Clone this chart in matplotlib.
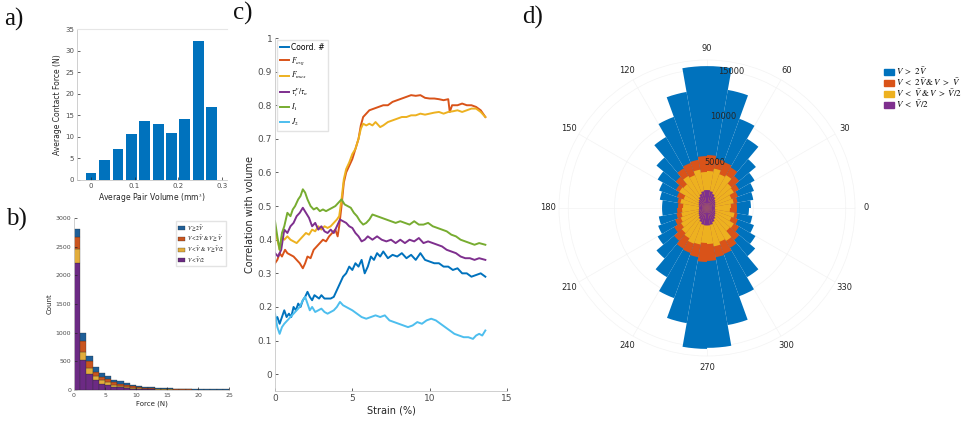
import numpy as np
import matplotlib
matplotlib.use('Agg')
import matplotlib.pyplot as plt
from matplotlib.patches import Patch

# ---- colours (MATLAB default order) ----
c_blue = '#0072BD'
c_orange = '#D95319'
c_yellow = '#EDB120'
c_purple = '#7E2F8E'
c_green = '#77AC30'
c_cyan = '#4DBEEE'
txt = '#262626'
spine = '#c8c8c8'

# ---- a) average contact force vs pair volume ----
vol_centres = [0.0, 0.031, 0.062, 0.092, 0.123, 0.154, 0.185, 0.215, 0.246, 0.277]
avg_force = [1.6, 4.6, 7.2, 10.6, 13.6, 12.9, 11.0, 14.1, 32.2, 16.9]

# ---- b) stacked force histogram, 1 N bins ----
force_edges = list(range(0, 25))
cnt_small = [2220, 520, 280, 170, 110, 90, 60, 45, 35, 25, 18, 14, 10, 8, 6,
             5, 4, 3, 3, 2, 2, 2, 1, 1, 1]
cnt_mid = [240, 140, 110, 80, 60, 45, 35, 30, 22, 18, 14, 10, 8, 6, 5,
           4, 3, 3, 2, 2, 2, 1, 1, 1, 1]
cnt_large = [200, 200, 110, 70, 60, 50, 40, 35, 28, 22, 18, 14, 12, 10, 8,
             7, 6, 5, 4, 4, 3, 3, 3, 2, 2]
cnt_huge = [150, 130, 100, 80, 60, 55, 45, 40, 35, 30, 25, 22, 20, 18, 16,
            14, 12, 11, 10, 9, 8, 7, 6, 6, 5]
hist_labels = [r'$V \geq 2\bar{V}$', r'$V < 2\bar{V}\ &\ V \geq \bar{V}$',
               r'$V < \bar{V}\ &\ V \geq \bar{V}/2$', r'$V < \bar{V}/2$']

# ---- c) correlation with volume vs strain, (strain %, r) ----
coord = [(0, 0.16), (0.15, 0.17), (0.3, 0.15), (0.45, 0.17), (0.6, 0.19), (0.75, 0.17),
         (0.9, 0.18), (1.05, 0.17), (1.2, 0.20), (1.35, 0.19), (1.5, 0.21), (1.65, 0.20),
         (1.8, 0.22), (1.95, 0.23), (2.1, 0.245), (2.25, 0.23), (2.4, 0.22), (2.55, 0.235),
         (2.7, 0.23), (2.85, 0.225), (3.0, 0.235), (3.2, 0.225), (3.4, 0.225), (3.6, 0.225),
         (3.8, 0.23), (4.0, 0.25), (4.2, 0.27), (4.4, 0.29), (4.6, 0.30), (4.8, 0.32),
         (5.0, 0.31), (5.2, 0.33), (5.4, 0.32), (5.6, 0.34), (5.8, 0.30), (6.0, 0.32),
         (6.2, 0.35), (6.4, 0.34), (6.6, 0.36), (6.8, 0.35), (7.0, 0.365), (7.3, 0.345),
         (7.6, 0.355), (7.9, 0.35), (8.2, 0.36), (8.5, 0.345), (8.8, 0.355), (9.1, 0.34),
         (9.4, 0.36), (9.7, 0.34), (10.0, 0.335), (10.3, 0.33), (10.6, 0.33), (10.9, 0.32),
         (11.2, 0.32), (11.5, 0.31), (11.8, 0.315), (12.1, 0.30), (12.4, 0.30), (12.7, 0.29),
         (13.0, 0.295), (13.3, 0.30), (13.6, 0.29)]
f_avg = [(0, 0.33), (0.15, 0.34), (0.3, 0.36), (0.45, 0.35), (0.65, 0.37), (0.8, 0.36),
         (1.0, 0.355), (1.2, 0.35), (1.4, 0.34), (1.6, 0.33), (1.8, 0.315), (1.95, 0.33),
         (2.1, 0.35), (2.3, 0.345), (2.5, 0.37), (2.7, 0.38), (2.9, 0.39), (3.1, 0.40),
         (3.3, 0.395), (3.5, 0.41), (3.7, 0.42), (3.9, 0.43), (4.05, 0.41), (4.15, 0.44),
         (4.3, 0.50), (4.45, 0.57), (4.6, 0.60), (4.8, 0.62), (5.0, 0.64), (5.2, 0.67),
         (5.4, 0.70), (5.55, 0.74), (5.7, 0.765), (5.9, 0.775), (6.1, 0.785), (6.4, 0.79),
         (6.7, 0.795), (7.0, 0.80), (7.3, 0.80), (7.6, 0.81), (7.9, 0.815), (8.2, 0.82),
         (8.5, 0.825), (8.8, 0.83), (9.1, 0.828), (9.4, 0.83), (9.7, 0.822), (10.0, 0.82),
         (10.3, 0.82), (10.6, 0.818), (10.9, 0.815), (11.2, 0.818), (11.3, 0.78),
         (11.45, 0.80), (11.8, 0.80), (12.1, 0.805), (12.4, 0.80), (12.7, 0.80),
         (13.0, 0.795), (13.3, 0.785), (13.6, 0.765)]
f_max = [(0, 0.43), (0.15, 0.40), (0.3, 0.37), (0.45, 0.41), (0.6, 0.40), (0.8, 0.41),
         (1.0, 0.40), (1.2, 0.395), (1.4, 0.39), (1.6, 0.40), (1.8, 0.41), (2.0, 0.42),
         (2.2, 0.415), (2.4, 0.43), (2.6, 0.425), (2.8, 0.44), (3.0, 0.43), (3.2, 0.44),
         (3.4, 0.435), (3.6, 0.44), (3.8, 0.45), (4.0, 0.46), (4.15, 0.47), (4.3, 0.52),
         (4.45, 0.58), (4.6, 0.61), (4.8, 0.63), (5.0, 0.655), (5.2, 0.67), (5.4, 0.70),
         (5.55, 0.73), (5.7, 0.745), (5.9, 0.74), (6.1, 0.745), (6.3, 0.74), (6.5, 0.75),
         (6.8, 0.735), (7.0, 0.74), (7.3, 0.75), (7.6, 0.755), (7.9, 0.76), (8.2, 0.765),
         (8.5, 0.765), (8.8, 0.77), (9.1, 0.77), (9.4, 0.775), (9.7, 0.772), (10.0, 0.775),
         (10.3, 0.778), (10.6, 0.78), (10.9, 0.775), (11.2, 0.78), (11.5, 0.782),
         (11.8, 0.785), (12.1, 0.78), (12.4, 0.785), (12.7, 0.79), (13.0, 0.79),
         (13.3, 0.78), (13.6, 0.765)]
tau = [(0, 0.36), (0.2, 0.35), (0.4, 0.37), (0.6, 0.43), (0.8, 0.42), (1.0, 0.44),
       (1.2, 0.45), (1.4, 0.47), (1.6, 0.48), (1.8, 0.495), (2.0, 0.48), (2.2, 0.465),
       (2.4, 0.44), (2.6, 0.45), (2.8, 0.43), (3.0, 0.44), (3.2, 0.425), (3.4, 0.42),
       (3.6, 0.43), (3.8, 0.42), (4.0, 0.44), (4.2, 0.46), (4.4, 0.455), (4.6, 0.45),
       (4.8, 0.44), (5.0, 0.435), (5.2, 0.42), (5.4, 0.41), (5.6, 0.395), (5.8, 0.40),
       (6.0, 0.41), (6.3, 0.40), (6.6, 0.41), (6.9, 0.40), (7.2, 0.395), (7.5, 0.40),
       (7.8, 0.39), (8.1, 0.40), (8.4, 0.39), (8.7, 0.40), (9.0, 0.395), (9.3, 0.405),
       (9.6, 0.39), (9.9, 0.395), (10.2, 0.39), (10.5, 0.385), (10.8, 0.38), (11.1, 0.37),
       (11.4, 0.365), (11.7, 0.36), (12.0, 0.35), (12.3, 0.345), (12.6, 0.345),
       (12.9, 0.34), (13.2, 0.345), (13.6, 0.34)]
inv_i1 = [(0, 0.455), (0.15, 0.41), (0.3, 0.37), (0.45, 0.42), (0.6, 0.44), (0.8, 0.48),
          (1.0, 0.47), (1.15, 0.49), (1.3, 0.50), (1.5, 0.52), (1.65, 0.53), (1.8, 0.55),
          (1.95, 0.54), (2.1, 0.52), (2.3, 0.50), (2.5, 0.49), (2.7, 0.495), (2.9, 0.485),
          (3.1, 0.49), (3.3, 0.485), (3.5, 0.49), (3.7, 0.495), (3.9, 0.50), (4.1, 0.51),
          (4.3, 0.52), (4.5, 0.505), (4.7, 0.50), (4.9, 0.495), (5.1, 0.48), (5.3, 0.47),
          (5.5, 0.455), (5.7, 0.445), (5.9, 0.45), (6.1, 0.46), (6.3, 0.475), (6.6, 0.47),
          (6.9, 0.465), (7.2, 0.46), (7.5, 0.455), (7.8, 0.45), (8.1, 0.455), (8.4, 0.45),
          (8.7, 0.445), (9.0, 0.455), (9.3, 0.445), (9.6, 0.445), (9.9, 0.45), (10.2, 0.44),
          (10.5, 0.435), (10.8, 0.43), (11.1, 0.425), (11.4, 0.415), (11.7, 0.41),
          (12.0, 0.40), (12.3, 0.395), (12.6, 0.39), (12.9, 0.385), (13.2, 0.39),
          (13.6, 0.385)]
inv_j2 = [(0, 0.18), (0.15, 0.14), (0.3, 0.12), (0.45, 0.14), (0.6, 0.15), (0.8, 0.16),
          (1.0, 0.17), (1.2, 0.18), (1.4, 0.19), (1.6, 0.20), (1.8, 0.22), (1.95, 0.23),
          (2.1, 0.21), (2.25, 0.19), (2.4, 0.20), (2.6, 0.185), (2.8, 0.19), (3.0, 0.195),
          (3.2, 0.185), (3.4, 0.18), (3.6, 0.185), (3.8, 0.19), (4.0, 0.20), (4.2, 0.215),
          (4.4, 0.205), (4.6, 0.20), (4.8, 0.195), (5.0, 0.19), (5.3, 0.18), (5.6, 0.17),
          (5.9, 0.165), (6.2, 0.17), (6.5, 0.175), (6.8, 0.17), (7.1, 0.175), (7.4, 0.16),
          (7.7, 0.155), (8.0, 0.15), (8.3, 0.145), (8.6, 0.14), (8.9, 0.145), (9.2, 0.155),
          (9.5, 0.15), (9.8, 0.16), (10.1, 0.165), (10.4, 0.16), (10.7, 0.15), (11.0, 0.14),
          (11.3, 0.13), (11.6, 0.12), (11.9, 0.115), (12.2, 0.11), (12.5, 0.11),
          (12.8, 0.105), (13.0, 0.115), (13.2, 0.12), (13.4, 0.115), (13.6, 0.13)]
corr_labels = ['Coord. #', r'$F_{avg}$', r'$F_{max}$', r'$\tau_t^{F}/\tau_n$', r'$I_1$', r'$J_2$']

# ---- d) polar histogram of contact orientation, 10 deg bins (cumulative radii) ----
bin_deg = list(range(5, 360, 10))
r_all = [4750, 5080, 5400, 5940, 6900, 8640, 10260, 12960, 15340,
         15340, 12740, 10480, 8860, 7130, 6160, 5510, 5180, 4860,
         4860, 5290, 5620, 6160, 7130, 8640, 10370, 12640, 15230,
         15120, 12850, 10150, 8640, 6800, 6050, 5400, 4970, 4540]
r_below2 = [3240, 3350, 3560, 4000, 4540, 5080, 5290, 5400, 5720,
            5610, 5290, 5180, 4970, 4430, 3890, 3460, 3240, 3130,
            3240, 3350, 3670, 4100, 4650, 5080, 5180, 5400, 5830,
            5720, 5400, 5290, 4970, 4540, 4000, 3560, 3350, 3240]
r_below1 = [2590, 2920, 2810, 3350, 3460, 4100, 3890, 4320, 4000,
            3890, 4210, 3780, 4000, 3350, 3460, 2700, 2920, 2590,
            2700, 2810, 3020, 3240, 3560, 3780, 4100, 4000, 3780,
            3890, 4210, 3890, 4100, 3240, 3350, 2810, 3020, 2480]
r_belowhalf = [860, 920, 970, 1080, 1190, 1400, 1620, 1840, 1940,
               1940, 1840, 1620, 1400, 1190, 1080, 970, 920, 860,
               860, 920, 970, 1080, 1190, 1400, 1620, 1840, 1890,
               1890, 1840, 1620, 1400, 1190, 1080, 970, 920, 860]
r_ticks = [5000, 10000, 15000]
polar_labels = [r'$V\ >\ 2\bar{V}$', r'$V\ <\ 2\bar{V}\,&\,V\ >\ \bar{V}$',
                r'$V\ <\ \bar{V}\,&\,V\ >\ \bar{V}/2$', r'$V\ <\ \bar{V}/2$']

plt.rcParams['font.family'] = ['DejaVu Sans']
plt.rcParams['mathtext.fontset'] = 'stix'
plt.rcParams['xtick.direction'] = 'in'
plt.rcParams['ytick.direction'] = 'in'

W, H = 974, 421
fig = plt.figure(figsize=(W / 100, H / 100), dpi=100)


def box(l, t, r, b):
    # pixel box -> figure fraction rect
    return [l / W, 1 - b / H, (r - l) / W, (b - t) / H]


def style(ax, fs):
    for s in ['top', 'right']:
        ax.spines[s].set_visible(False)
    for s in ['left', 'bottom']:
        ax.spines[s].set_color(spine)
        ax.spines[s].set_linewidth(0.6)
    ax.tick_params(colors=txt, labelsize=fs, length=2, width=0.5, pad=2)
    for t in ax.get_xticklabels() + ax.get_yticklabels():
        t.set_color('#4d4d4d')


# a)
axa = fig.add_axes(box(77, 29, 227, 180))
axa.bar(vol_centres, avg_force, width=0.025, color=c_blue)
axa.set_xlim(-0.032, 0.312)
axa.set_ylim(0, 35)
axa.set_xticks([0, 0.1, 0.2, 0.3])
axa.set_xticklabels(['0', '0.1', '0.2', '0.3'])
axa.set_yticks(range(0, 36, 5))
style(axa, 5)
axa.spines['top'].set_visible(True)
axa.spines['top'].set_color('#e6e6e6')
axa.set_xlabel('Average Pair Volume (mm$^3$)', fontsize=5.5, color=txt, labelpad=2)
axa.set_ylabel('Average Contact Force (N)', fontsize=5.5, color=txt, labelpad=2)

# b)
axb = fig.add_axes(box(74, 218, 229, 390))
layers = [cnt_small, cnt_mid, cnt_large, cnt_huge]
cols_b = ['#6c2a84', '#e2ad3c', '#c9551f', '#1f5f98']
bottom = np.zeros(len(force_edges))
handles_b = []
for vals, col in zip(layers, cols_b):
    axb.bar(force_edges, vals, width=1, align='edge', bottom=bottom, color=col,
            edgecolor='#2a2a2a', linewidth=0.2)
    bottom = bottom + np.array(vals)
    handles_b.append(Patch(facecolor=col, edgecolor='#2a2a2a', linewidth=0.2))
axb.set_xlim(0, 25)
axb.set_ylim(0, 3000)
axb.set_xticks(range(0, 26, 5))
axb.set_yticks(range(0, 3001, 500))
style(axb, 4.5)
axb.set_xlabel('Force (N)', fontsize=5, color=txt, labelpad=2)
axb.set_ylabel('Count', fontsize=5, color=txt, labelpad=2)
axb.legend(handles_b[::-1], hist_labels, loc='upper right', fontsize=4, frameon=True,
           handlelength=1.2, handleheight=0.8, handletextpad=0.4, borderpad=0.4,
           labelspacing=0.25, fancybox=False, edgecolor='#dddddd',
           bbox_to_anchor=(1.0, 1.0))

# c)
axc = fig.add_axes(box(275, 38, 507, 391))
series = [(coord, c_blue), (f_avg, c_orange), (f_max, c_yellow),
          (tau, c_purple), (inv_i1, c_green), (inv_j2, c_cyan)]
for (pts, col), lab in zip(series, corr_labels):
    xs, ys = zip(*pts)
    axc.plot(xs, ys, color=col, lw=1.4, label=lab)
axc.set_xlim(0, 15)
axc.set_ylim(-0.05, 1)
axc.set_xticks([0, 5, 10, 15])
axc.set_yticks(np.arange(0, 1.01, 0.1))
axc.set_yticklabels(['0', '0.1', '0.2', '0.3', '0.4', '0.5', '0.6', '0.7', '0.8', '0.9', '1'])
style(axc, 6.5)
axc.set_xlabel('Strain (%)', fontsize=7, color=txt, labelpad=2)
axc.set_ylabel('Correlation with volume', fontsize=7, color=txt, labelpad=2)
axc.legend(loc='upper left', fontsize=5.5, frameon=True, fancybox=False,
           edgecolor='#dddddd', handlelength=1.2, handletextpad=0.3,
           borderpad=0.4, labelspacing=0.45, borderaxespad=0.2)

# d)
axd = fig.add_axes(box(559, 60, 855, 356), projection='polar')
theta = np.deg2rad(bin_deg)
cols_d = [c_blue, c_orange, c_yellow, c_purple]
for radii, col in zip([r_all, r_below2, r_below1, r_belowhalf], cols_d):
    axd.bar(theta, radii, width=np.deg2rad(10), color=col, linewidth=0)
axd.set_ylim(0, 16000)
axd.set_yticks(r_ticks)
axd.set_yticklabels([])
for rv in r_ticks:
    axd.text(np.deg2rad(80), rv, str(rv), fontsize=6, color=txt,
             ha='center', va='center', zorder=10)
angles = list(range(0, 360, 30))
axd.set_thetagrids(angles, labels=[str(a) for a in angles], fontsize=6, color=txt)
axd.tick_params(axis='x', pad=1)
axd.grid(color='#f3f3f3', lw=0.5)
axd.spines['polar'].set_color('#f3f3f3')
axd.spines['polar'].set_linewidth(0.5)
axd.set_axisbelow(True)
fig.legend([Patch(color=c) for c in cols_d], polar_labels, loc='upper left',
           bbox_to_anchor=(876 / W, 1 - 58 / H), fontsize=6.5, frameon=False,
           handlelength=1.1, handleheight=0.6, handletextpad=0.2, labelspacing=0.0)

# panel letters
for s, x, y in [('a)', 4, 8), ('b)', 6, 208), ('c)', 233, 2), ('d)', 522, 6)]:
    fig.text(x / W, 1 - y / H, s, fontsize=18, family='Liberation Serif', va='top', color='#111111')

fig.savefig('out.png', dpi=100)
